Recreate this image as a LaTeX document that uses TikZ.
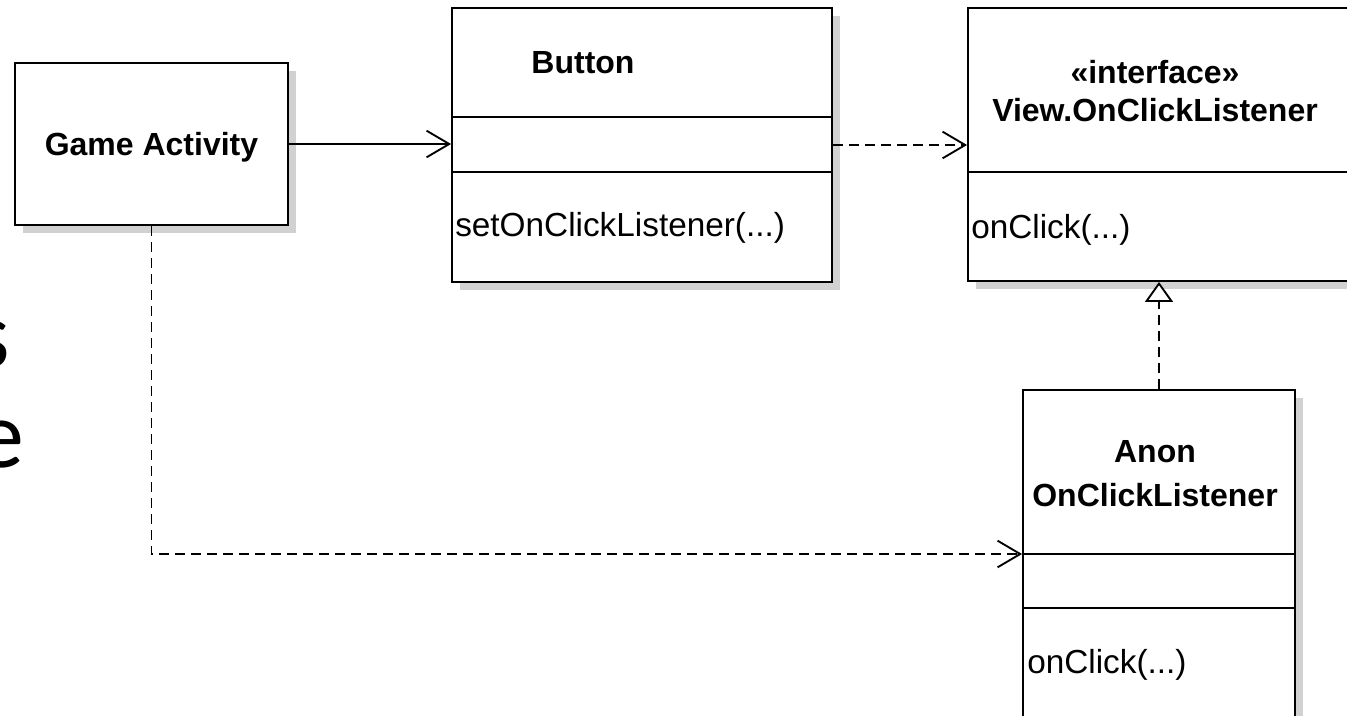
\documentclass[tikz,border=0pt]{standalone}
\usepackage{fontspec}
\setmainfont{Liberation Sans}
\newfontfamily\slidefont{Carlito}
\usetikzlibrary{arrows.meta,shadows}

\tikzset{
  umlbox/.style={draw, line width=1.4pt, fill=white, inner sep=0pt,
    drop shadow={shadow xshift=6pt, shadow yshift=-6pt, fill=black!18, opacity=1}},
  divider/.style={line width=1.4pt},
  classname/.style={font=\fontsize{24}{28}\selectfont\bfseries, inner sep=0pt},
  member/.style={font=\fontsize{25}{30}\selectfont, inner sep=0pt, anchor=west},
  slidetext/.style={font=\fontsize{72}{86}\selectfont\slidefont, inner sep=0pt, anchor=base east},
  assoc/.style={line width=1.4pt, -{Straight Barb[length=17pt,width=20pt,line width=1.4pt]}},
  dep/.style={assoc, dash pattern=on 7.5pt off 4.5pt},
  realize/.style={line width=1.4pt, dash pattern=on 7.5pt off 4.5pt,
    -{Triangle[open,length=15pt,width=21pt,line width=1.4pt,fill=white]}},
}

\begin{document}
\begin{tikzpicture}[x=0.75pt, y=-0.75pt]

    \useasboundingbox (0,0) rectangle (1347,715);

    % CUT-OFF SLIDE TEXT
    \node[slidetext] (slideone) at (10,367) {s};
    \node[slidetext] (slidetwo) at (25,467) {e};

    % GAME ACTIVITY
    \node[umlbox, minimum width=204.75pt, minimum height=121.5pt] (game) at (151.5,144) {};
    \node[classname] (gamename) at (151.5,147) {Game Activity};

    % BUTTON
    \node[umlbox, minimum width=285pt, minimum height=205.5pt] (button) at (642,145) {};
    \draw[divider] (button.west |- 0,117) -- (button.east |- 0,117);
    \draw[divider] (button.west |- 0,172) -- (button.east |- 0,172);
    \node[classname] (buttonname) at (583,63) {Button};
    \node[member] (buttonop) at (455,228) {setOnClickListener(...)};

    % INTERFACE
    \node[umlbox, minimum width=297.75pt, minimum height=204.75pt] (iface) at (1166.5,144.5) {};
    \draw[divider] (iface.west |- 0,172) -- (iface.east |- 0,172);
    \node[classname] (ifacetag) at (1155,72) {«interface»};
    \node[classname] (ifacename) at (1155,110) {View.OnClickListener};
    \node[member] (ifaceop) at (971,230) {onClick(...)};

    % ANONYMOUS LISTENER
    \node[umlbox, minimum width=204pt, minimum height=262.5pt] (anon) at (1159,565) {};
    \coordinate (anonsplit) at (anon.west |- 0,554);
    \draw[divider] (anonsplit) -- (anon.east |- 0,554);
    \draw[divider] (anon.west |- 0,608) -- (anon.east |- 0,608);
    \node[classname] (anonname) at (1155,452) {Anon};
    \node[classname] (anonname2) at (1155,495) {OnClickListener};
    \node[member] (anonop) at (1027,665) {onClick(...)};

    % CONNECTORS
    \draw[assoc] (game.east) -- (game.east -| button.west);
    \draw[dep] (button.east) -- (button.east -| iface.west);
    \draw[realize] (anon.north) -- (anon.north |- iface.south);
    \draw[dep] (game.south) |- (anonsplit);

\end{tikzpicture}
\end{document}
